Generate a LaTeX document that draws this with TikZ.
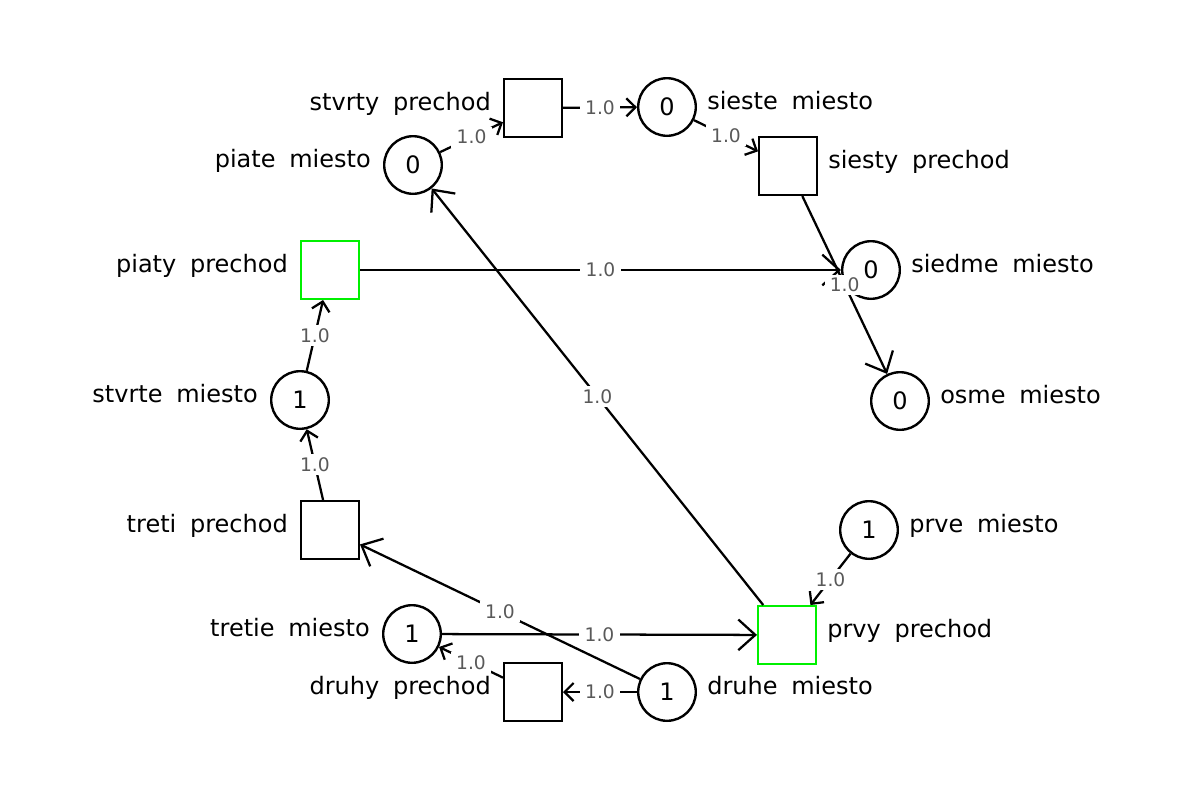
\documentclass[tikz,border=0pt]{standalone}
\usepackage{fontspec}
\setmainfont{DejaVu Sans}
\newfontfamily\namefont{DejaVu Sans}[WordSpace=1.8]
\usetikzlibrary{arrows.meta,calc}
\definecolor{petrigreen}{RGB}{0,240,0}
\begin{document}
\begin{tikzpicture}[x=0.75pt,y=-0.75pt,
  place/.style={circle, draw, line width=1.8pt, minimum size=43.2pt, inner sep=0pt, font=\fontsize{18}{20}\selectfont},
  trans/.style={rectangle, draw, line width=1.8pt, minimum size=43.2pt, inner sep=0pt},
  active/.style={draw=petrigreen},
  pname/.style={inner sep=0pt, font=\namefont\fontsize{18}{20}\selectfont},
  arc/.style={line width=1.7pt},
  small/.style={arc, -{Straight Barb[length=6.75pt,width=13.5pt]}},
  big/.style={arc, -{Straight Barb[length=12.75pt,width=23pt]}},
  wt/.style={fill=white, text=black!65, font=\fontsize{14}{16}\selectfont, inner xsep=4pt, inner ysep=2.5pt}]
\useasboundingbox (0,0) rectangle (1200,800);
% places
\node[place] (p1) at (869,530) {1};
\node[place] (p2) at (667,692) {1};
\node[place] (p3) at (412,634) {1};
\node[place] (p4) at (300,400) {1};
\node[place] (p5) at (413,165) {0};
\node[place] (p6) at (667,107) {0};
\node[place] (p7) at (871,270) {0};
\node[place] (p8) at (900,401) {0};
% transitions
\node[trans,active] (t1) at (787,635) {};
\node[trans] (t2) at (533,692) {};
\node[trans] (t3) at (330,530) {};
\node[trans] (t4) at (533,108) {};
\node[trans,active] (t5) at (330,270) {};
\node[trans] (t6) at (788,166) {};
% names
\node[pname, anchor=base west] (n1) at ($(p1.east)+(10,2)$) {prve miesto};
\node[pname, anchor=base west] (n2) at ($(p2.east)+(10,2)$) {druhe miesto};
\node[pname, anchor=base east] (n3) at ($(p3.west)+(-12,2)$) {tretie miesto};
\node[pname, anchor=base east] (n4) at ($(p4.west)+(-12,2)$) {stvrte miesto};
\node[pname, anchor=base east] (n5) at ($(p5.west)+(-12,2)$) {piate miesto};
\node[pname, anchor=base west] (n6) at ($(p6.east)+(10,2)$) {sieste miesto};
\node[pname, anchor=base west] (n7) at ($(p7.east)+(10,2)$) {siedme miesto};
\node[pname, anchor=base west] (n8) at ($(p8.east)+(10,2)$) {osme miesto};
\node[pname, anchor=base west] (m1) at ($(t1.east)+(10,2)$) {prvy prechod};
\node[pname, anchor=base east] (m2) at ($(t2.west)+(-12,2)$) {druhy prechod};
\node[pname, anchor=base east] (m3) at ($(t3.west)+(-12,2)$) {treti prechod};
\node[pname, anchor=base east] (m4) at ($(t4.west)+(-12,2)$) {stvrty prechod};
\node[pname, anchor=base east] (m5) at ($(t5.west)+(-12,2)$) {piaty prechod};
\node[pname, anchor=base west] (m6) at ($(t6.east)+(10,2)$) {siesty prechod};
% arcs
\draw[small] (p5) -- node[wt]{1.0} (t4);
\draw[small] (t4) -- node[wt]{1.0} (p6);
\draw[small] (p6) -- node[wt]{1.0} (t6);
\draw[big] (t5) -- node[wt]{1.0} (p7);
\draw[big] (t6) -- node[wt]{1.0} (p8);
\draw[small] (p4) -- node[wt]{1.0} (t5);
\draw[small] (t3) -- node[wt]{1.0} (p4);
\draw[big] (p2) -- node[wt]{1.0} (t3);
\draw[big] (p3) -- node[wt]{1.0} (t1);
\draw[small] (p2) -- node[wt]{1.0} (t2);
\draw[small] (t2) -- node[wt]{1.0} (p3);
\draw[small] (p1) -- node[wt]{1.0} (t1);
\draw[big] (t1) -- node[wt]{1.0} (p5);
\end{tikzpicture}
\end{document}
